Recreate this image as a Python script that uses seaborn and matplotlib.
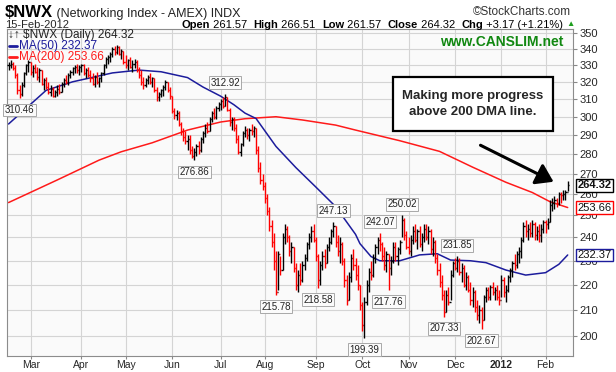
import numpy as np
import pandas as pd
import matplotlib
matplotlib.use("Agg")
import matplotlib.pyplot as plt
import seaborn as sns
from matplotlib.ticker import FixedLocator, FixedFormatter, NullLocator
from matplotlib.patches import Rectangle, FancyArrowPatch
from matplotlib.lines import Line2D

# ---- data (daily bars 14-Feb-2011 .. 15-Feb-2012) ----
holidays = ["2011-02-21", "2011-04-22", "2011-05-30", "2011-07-04", "2011-09-05",
            "2011-11-24", "2011-12-26", "2012-01-02", "2012-01-16"]

highs = [
    # Feb
    332, 333, 332, 330, 325, 318, 320, 326, 331, 333,
    # Mar
    332, 330, 331, 329, 328, 327, 322, 323, 320, 318, 317, 315, 318, 319, 320, 322,
    324, 325, 327, 329, 330, 331, 330,
    # Apr
    331, 331, 328, 329, 327, 325, 324, 326, 323, 326, 331, 335, 336, 338, 341, 342,
    342.5, 342, 340, 339,
    # May
    336, 334, 335, 333, 334, 333, 329, 327, 323, 322, 324, 325, 323, 322, 317, 314,
    316, 318, 321, 320, 317,
    # Jun
    312, 305, 304, 303, 297, 294, 292, 290, 290, 284, 283, 285, 287, 289, 292, 296,
    297, 300, 303, 305, 306, 308,
    # Jul
    310, 311, 312.92, 311, 305, 300, 300, 296, 290, 286, 292, 295, 294, 294, 296, 295,
    294, 284, 276, 270,
    # Aug
    266, 260, 254, 248, 242, 234, 234, 232, 242, 246, 245, 241, 238, 236, 229, 226,
    229, 230, 233, 238, 242, 245, 246,
    # Sep
    240, 233, 230, 234, 235, 237, 240, 244, 247.13, 245, 241, 240, 238, 231, 224, 225,
    233, 235, 231, 228, 220,
    # Oct
    213, 215, 222, 227, 230, 233, 237, 240, 242.07, 238, 236, 234, 233, 232, 238, 238,
    236, 239, 250.02, 249, 243,
    # Nov
    240, 241, 245, 246, 244, 245, 242, 246, 246, 245, 244, 240, 239, 233, 229, 224,
    218, 218, 219, 226, 230,
    # Dec
    231, 231.85, 231, 229, 228, 225, 224, 221, 219, 218, 214, 212, 211, 216, 219, 219,
    220, 221, 219, 220, 218,
    # Jan
    224, 223, 220, 224, 227, 230, 233, 234, 236, 240, 247, 248, 246, 247, 248, 247,
    245, 246, 246, 248,
    # Feb
    248, 249, 257, 258, 259, 258, 261, 261, 262, 262, 266.51,
]

lows = [
    327, 328, 327, 322, 313, 310.46, 312, 317, 324, 326,
    324, 323, 325, 321, 320, 318, 315, 316, 313, 312, 311, 311, 312, 313, 314, 317,
    319, 318, 322, 324, 325, 325, 324,
    326, 324, 322, 323, 320, 318, 317, 319, 317, 320, 324, 328, 331, 332, 335, 336,
    337, 336, 334, 331,
    328, 327, 328, 326, 328, 326, 322, 318, 316, 317, 319, 319, 317, 314, 309, 309,
    311, 312, 315, 314, 310,
    302, 299, 298, 295, 290, 287, 285, 282, 280, 278, 276.86, 279, 280, 281, 286, 289,
    291, 292, 297, 299, 299, 303,
    304, 305, 306, 303, 295, 293, 292, 286, 280, 279, 284, 289, 288, 287, 290, 289,
    280, 271, 265, 262,
    256, 250, 243, 236, 226, 215.78, 218, 224, 226, 237, 238, 232, 229, 225, 218, 217,
    220, 221, 226, 230, 235, 238, 238,
    230, 218.58, 220, 226, 227, 229, 234, 237, 240, 236, 232, 229, 228, 219, 212, 214,
    221, 226, 222, 218, 210,
    202, 199.39, 212, 217, 222, 223, 229, 233, 234, 230, 226, 225, 217.76, 224, 229, 230,
    228, 233, 240, 239, 235,
    233, 232, 237, 238, 235, 236, 234, 238, 239, 237, 233, 232, 229, 224, 219, 214,
    207.33, 209, 212, 214, 223,
    226, 225, 224, 221, 219, 218, 217, 212, 211, 209, 206, 205, 202.67, 206, 213, 214,
    214, 216, 214, 214, 212,
    215, 215, 213, 217, 221, 223, 226, 227, 229, 231, 238, 240, 239, 240, 240, 239,
    239, 238, 238, 242,
    242, 244, 247, 252, 253, 254, 255, 256, 257, 257, 261.57,
]

closes = [
    330, 331, 328, 324, 315, 313, 318, 325, 330, 332,
    326, 328, 326, 323, 327, 319, 321, 317, 314, 316, 312, 314, 316, 314, 319, 321,
    320, 324, 326, 328, 329, 327, 329,
    330, 325, 327, 324, 322, 319, 323, 320, 322, 325, 330, 334, 335, 337, 340, 338,
    341, 337, 339, 332,
    330, 333, 329, 331, 332, 327, 324, 320, 318, 321, 323, 320, 322, 315, 311, 313,
    315, 317, 320, 315, 312,
    303, 301, 302, 296, 292, 289, 287, 288, 282, 279, 281, 284, 282, 288, 291, 294,
    292, 299, 302, 300, 305, 307,
    309, 306, 311, 304, 297, 299, 294, 288, 281, 285, 291, 293, 290, 293, 292, 294,
    282, 273, 267, 264,
    258, 252, 245, 238, 230, 217, 233, 226, 240, 244, 240, 234, 236, 227, 220, 224,
    222, 228, 231, 237, 240, 243, 239,
    232, 222, 228, 232, 229, 236, 238, 243, 245, 238, 234, 237, 230, 222, 214, 223,
    231, 228, 224, 220, 212,
    204, 213, 220, 225, 224, 231, 236, 239, 237, 232, 228, 233, 227, 230, 236, 232,
    235, 238, 248, 241, 236,
    234, 239, 243, 239, 243, 237, 240, 244, 240, 243, 235, 238, 231, 226, 221, 216,
    209, 216, 213, 224, 229,
    227, 230, 225, 227, 220, 223, 218, 214, 217, 211, 208, 210, 206, 215, 218, 215,
    219, 217, 218, 215, 214,
    222, 217, 218, 223, 226, 229, 228, 233, 234, 239, 245, 243, 244, 242, 246, 241,
    243, 241, 244, 247,
    246, 247, 255, 256, 257, 256, 260, 259.5, 260, 261.15, 264.32,
]

# moving averages, read at a few points along each line (bar index, value)
ma50_idx = [0, 17, 29, 47, 59, 69, 81, 88, 96, 102, 107, 112, 121, 130, 139, 148,
            157, 159, 164, 168, 177, 186, 194, 200, 209, 216, 225, 234, 243, 249, 253]
ma50_val = [296, 315, 320, 325.3, 327, 326, 322.5, 316.9, 311.6, 306.7, 302, 299, 284,
            273.1, 263.5, 254.1, 241.4, 237.3, 231.7, 229.9, 229.9, 232.4, 232.9, 230.2,
            229.9, 229.1, 226, 223.9, 224.9, 228.4, 232.37]
ma200_idx = [0, 22, 41, 51, 65, 81, 96, 107, 121, 133, 148, 157, 177, 195, 210, 225,
             237, 245, 253]
ma200_val = [256, 266.9, 276.9, 281.2, 285.9, 292.7, 297.1, 298.9, 300, 298.2, 295.4,
             292.7, 287, 281.4, 273.3, 265.8, 260.8, 256.4, 253.66]

# labelled turning points: (bar index, 'low' or 'high')
ext_idx = [5, 84, 98, 121, 140, 147, 161, 168, 172, 178, 197, 203, 214]
ext_side = ["low", "low", "high", "low", "low", "high", "low", "high", "low", "high",
            "low", "high", "low"]

y_ticks = list(range(200, 360, 10))

# ---- style ----
sns.set_style("white")
plt.rcParams["font.family"] = ["Liberation Sans", "DejaVu Sans"]

W, H = 616, 372
fig = plt.figure(figsize=(W / 100, H / 100), dpi=100)
fig.patch.set_facecolor("white")
renderer = fig.canvas.get_renderer()


def fpos(x, y):
    return x / W, 1 - y / H


def text_row(x0, y, parts, align="left"):
    """Draw (text, bold, color, size) parts one after another on one line."""
    objs = []
    for txt, bold, c, size in parts:
        objs.append(fig.text(0, 1 - y / H, txt, fontsize=size, va="baseline", color=c,
                             fontweight="bold" if bold else "normal"))
    widths = [o.get_window_extent(renderer).width for o in objs]
    x = x0 - sum(widths) if align == "right" else x0
    for o, w in zip(objs, widths):
        o.set_x(x / W)
        x += w
    return x


# plot area
ax = fig.add_axes([7 / W, (H - 356) / H, 566 / W, 327 / H])
ax.set_facecolor("#fafafa")

dates = pd.bdate_range("2011-02-14", "2012-02-15", freq="C", holidays=holidays)
n = len(closes)
x = np.arange(n)
hi = np.array(highs, float)
lo = np.array(lows, float)
cl = np.array(closes, float)
op = np.r_[cl[0], cl[:-1]]
col = np.where(cl >= op, "black", "#ff0000")

# grid
month_pos = [i for i in range(1, n) if dates[i].month != dates[i - 1].month]
for m in month_pos:
    ax.axvline(m, color="#d4d4d4", lw=0.8, zorder=0)
for t in y_ticks:
    ax.axhline(t, color="#d4d4d4", lw=0.8, zorder=0)

# moving averages
sns.lineplot(x=ma200_idx, y=ma200_val, ax=ax, color="#ff1a1a", lw=1.1, zorder=2)
sns.lineplot(x=ma50_idx, y=ma50_val, ax=ax, color="#1c1c9c", lw=1.1, zorder=2)

# OHLC bars
ax.vlines(x, lo, hi, colors=col, lw=1.0, zorder=3)
ax.hlines(op, x - 0.5, x, colors=col, lw=1.0, zorder=3)
ax.hlines(cl, x, x + 0.5, colors=col, lw=1.0, zorder=3)

ax.set_yscale("log")
ax.set_ylim(192.8, 352.8)
ax.set_xlim(-0.7, 255.4)
ax.yaxis.set_major_locator(FixedLocator(y_ticks))
ax.yaxis.set_major_formatter(FixedFormatter([str(t) for t in y_ticks]))
ax.yaxis.set_minor_locator(NullLocator())
ax.yaxis.tick_right()
ax.tick_params(axis="y", length=3, pad=1.5, labelsize=8, color="#888888", right=True)

ax.set_xticks(month_pos)
xlabels = ["2012" if dates[m].month == 1 else dates[m].strftime("%b") for m in month_pos]
ax.set_xticklabels(xlabels)
ax.tick_params(axis="x", length=2, pad=1, labelsize=7.5, color="#888888", bottom=True)
for lab in ax.get_xticklabels():
    if lab.get_text() == "2012":
        lab.set_fontweight("bold")
ax.set_xlabel("")
ax.set_ylabel("")
for s in ax.spines.values():
    s.set_color("#8c8c8c")
    s.set_linewidth(0.8)

# turning point labels
box = dict(boxstyle="square,pad=0.15", fc="#fbfbfb", ec="#a8a8a8", lw=0.7)
for i, side in zip(ext_idx, ext_side):
    v = lo[i] if side == "low" else hi[i]
    dy = -8.5 if side == "low" else 8.0
    ax.annotate(f"{v:.2f}", xy=(i, v), xytext=(0, dy), textcoords="offset points",
                ha="center", va="center", fontsize=7, color="#222222", bbox=box,
                zorder=5, annotation_clip=False)

# right-hand value tags
tags = [(cl[-1], "black", "bold"), (ma200_val[-1], "#ff0000", "normal"),
        (ma50_val[-1], "#1c1c9c", "normal")]
for v, ec, fw in tags:
    ax.annotate(f"{v:.2f}", xy=(1, v), xycoords=("axes fraction", "data"),
                xytext=(3, 0), textcoords="offset points", ha="left", va="center",
                fontsize=8, fontweight=fw, color="#111111", zorder=6,
                bbox=dict(boxstyle="square,pad=0.12", fc="white", ec=ec, lw=1.0))

# header
text_row(5, 17, [("$NWX", True, "black", 12),
                 (" (Networking Index - AMEX) INDX", False, "#222222", 9)])
fig.text(*fpos(571, 12), "\u00a9StockCharts.com", fontsize=8.5, va="center", ha="right",
         color="#333333")
fig.text(*fpos(5, 25), "15-Feb-2012", fontsize=8, va="center")
k = "black"
text_row(563, 28.5, [("Open", True, k, 8), (" 261.57  ", False, k, 8),
                     ("High", True, k, 8), (" 266.51  ", False, k, 8),
                     ("Low", True, k, 8), (" 261.57  ", False, k, 8),
                     ("Close", True, k, 8), (" 264.32  ", False, k, 8),
                     ("Chg", True, k, 8), (" +3.17 (+1.21%)", False, k, 8)],
         align="right")
fig.text(*fpos(566, 24), "\u25b2", fontsize=6, va="center", color="#1e9e1e")

# legend inside plot
fig.text(*fpos(8, 35), "\u2193\u2191 $NWX (Daily) 264.32", fontsize=8.5, va="center",
         color="#222222")
fig.add_artist(Line2D([9 / W, 17 / W], [1 - 46 / H, 1 - 46 / H], color="#1c1c9c", lw=2))
fig.text(*fpos(19, 46), "MA(50) 232.37", fontsize=8.5, va="center", color="#1c1c9c")
fig.add_artist(Line2D([9 / W, 17 / W], [1 - 57 / H, 1 - 57 / H], color="#ff1a1a", lw=2))
fig.text(*fpos(19, 57), "MA(200) 253.66", fontsize=8.5, va="center", color="#ff1a1a")

fig.text(*fpos(563, 42), "www.CANSLIM.net", fontsize=10, fontweight="bold",
         color="#118811", ha="right", va="center")

# callout
fig.add_artist(Rectangle(fpos(393, 131), 160 / W, 54 / H, transform=fig.transFigure,
                         fc="white", ec="black", lw=1.6, zorder=10))
fig.text(*fpos(473, 104), "Making more progress\nabove 200 DMA line.", fontsize=9.5,
         fontweight="bold", ha="center", va="center", linespacing=1.4, zorder=11)
fig.add_artist(FancyArrowPatch(
    fpos(478, 144), fpos(556, 183), transform=fig.transFigure,
    arrowstyle="-|>,head_length=6,head_width=4", color="black", lw=2.2,
    mutation_scale=1.7, zorder=11))

fig.savefig("out.png", dpi=100)
